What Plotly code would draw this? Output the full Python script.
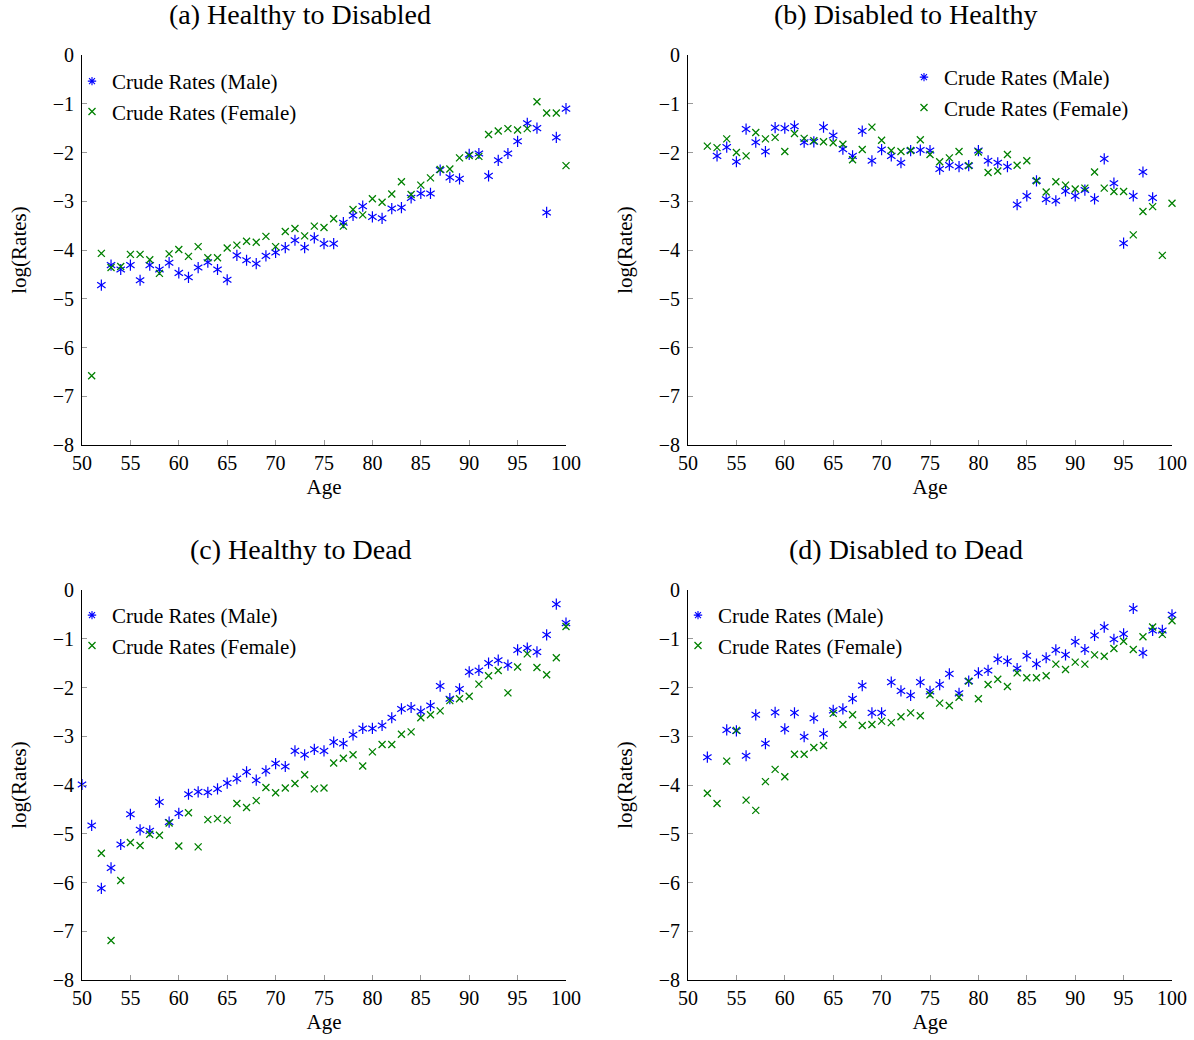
import plotly.graph_objects as go

# ---------------- data ----------------
# (a) Healthy to Disabled
a_male_age = list(range(52, 101))
a_male = [-4.72, -4.31, -4.40, -4.31, -4.62, -4.31, -4.40, -4.26, -4.47, -4.56,
          -4.36, -4.25, -4.40, -4.61, -4.11, -4.21, -4.28, -4.12, -4.05, -3.95,
          -3.80, -3.95, -3.75, -3.87, -3.87, -3.44, -3.29, -3.10, -3.32, -3.35,
          -3.15, -3.13, -2.93, -2.84, -2.84, -2.36, -2.51, -2.54, -2.04, -2.02,
          -2.48, -2.16, -2.02, -1.77, -1.40, -1.50, -3.23, -1.69, -1.10]
a_female_age = list(range(51, 101))
a_female = [-6.58, -4.07, -4.36, -4.34, -4.09, -4.09, -4.20, -4.48, -4.08, -3.99,
            -4.13, -3.93, -4.16, -4.16, -3.96, -3.90, -3.82, -3.84, -3.72, -3.93,
            -3.62, -3.56, -3.71, -3.51, -3.54, -3.36, -3.51, -3.17, -3.28, -2.95,
            -3.02, -2.85, -2.60, -2.86, -2.67, -2.52, -2.35, -2.34, -2.11, -2.06,
            -2.08, -1.63, -1.56, -1.51, -1.54, -1.51, -0.96, -1.19, -1.19, -2.27]

# (b) Disabled to Healthy
b_male_age = list(range(53, 99))
b_male = [-2.07, -1.89, -2.19, -1.52, -1.79, -1.98, -1.49, -1.50, -1.46, -1.79,
          -1.78, -1.48, -1.65, -1.93, -2.07, -1.56, -2.17, -1.94, -2.07, -2.21,
          -1.96, -1.95, -1.96, -2.34, -2.26, -2.29, -2.27, -1.96, -2.17, -2.21,
          -2.29, -3.07, -2.89, -2.58, -2.96, -2.99, -2.79, -2.89, -2.77, -2.95,
          -2.13, -2.63, -3.86, -2.89, -2.40, -2.93]
b_female_age = list(range(52, 101))
b_female = [-1.87, -1.90, -1.72, -2.00, -2.07, -1.59, -1.72, -1.69, -1.98, -1.61,
            -1.71, -1.76, -1.78, -1.80, -1.83, -2.15, -1.94, -1.48, -1.75, -1.96,
            -1.98, -1.96, -1.74, -2.04, -2.19, -2.11, -1.98, -2.27, -1.99, -2.41,
            -2.38, -2.04, -2.26, -2.17, -2.58, -2.81, -2.60, -2.67, -2.75, -2.73,
            -2.40, -2.73, -2.80, -2.80, -3.69, -3.21, -3.11, -4.11, -3.04]

# (c) Healthy to Dead
c_male_age = list(range(50, 101))
c_male = [-3.99, -4.83, -6.12, -5.70, -5.22, -4.60, -4.92, -4.94, -4.35, -4.76,
          -4.58, -4.19, -4.14, -4.15, -4.08, -3.96, -3.87, -3.73, -3.90, -3.71,
          -3.56, -3.62, -3.30, -3.38, -3.27, -3.30, -3.12, -3.15, -2.97, -2.84,
          -2.84, -2.78, -2.62, -2.44, -2.41, -2.49, -2.37, -1.97, -2.23, -2.03,
          -1.68, -1.65, -1.50, -1.44, -1.54, -1.23, -1.19, -1.27, -0.92, -0.29,
          -0.68]
c_female_age = list(range(52, 101))
c_female = [-5.40, -7.19, -5.96, -5.18, -5.24, -5.01, -5.03, -4.78, -5.25, -4.57,
            -5.27, -4.71, -4.69, -4.72, -4.38, -4.46, -4.32, -4.05, -4.16, -4.06,
            -3.97, -3.79, -4.08, -4.06, -3.55, -3.45, -3.38, -3.61, -3.32, -3.17,
            -3.17, -2.96, -2.91, -2.62, -2.56, -2.48, -2.27, -2.23, -2.18, -1.93,
            -1.76, -1.65, -2.11, -1.58, -1.31, -1.59, -1.74, -1.39, -0.75]

# (d) Disabled to Dead
d_male_age = [52] + list(range(54, 101))
d_male = [-3.43, -2.87, -2.89, -3.40, -2.56, -3.15, -2.51, -2.85, -2.52, -3.01,
          -2.63, -2.95, -2.47, -2.44, -2.23, -1.96, -2.52, -2.52, -1.89, -2.07,
          -2.16, -1.89, -2.08, -1.94, -1.72, -2.12, -1.87, -1.70, -1.65, -1.42,
          -1.46, -1.61, -1.35, -1.52, -1.39, -1.23, -1.33, -1.06, -1.22, -0.93,
          -0.76, -1.01, -0.90, -0.38, -1.29, -0.83, -0.83, -0.51]
d_female_age = list(range(52, 101))
d_female = [-4.17, -4.38, -3.51, -2.88, -4.31, -4.52, -3.93, -3.68, -3.83, -3.37,
            -3.37, -3.23, -3.19, -2.53, -2.76, -2.56, -2.78, -2.76, -2.69, -2.72,
            -2.60, -2.52, -2.58, -2.15, -2.32, -2.37, -2.20, -1.87, -2.23, -1.94,
            -1.83, -1.98, -1.70, -1.80, -1.80, -1.76, -1.52, -1.63, -1.48, -1.52,
            -1.33, -1.36, -1.20, -1.05, -1.22, -0.96, -0.76, -0.91, -0.63]

titles = ["(a) Healthy to Disabled", "(b) Disabled to Healthy",
          "(c) Healthy to Dead", "(d) Disabled to Dead"]
male_label = "Crude Rates (Male)"
female_label = "Crude Rates (Female)"
x_ticks = [50, 55, 60, 65, 70, 75, 80, 85, 90, 95, 100]
y_ticks = [0, -1, -2, -3, -4, -5, -6, -7, -8]

panels = [
    (a_male_age, a_male, a_female_age, a_female),
    (b_male_age, b_male, b_female_age, b_female),
    (c_male_age, c_male, c_female_age, c_female),
    (d_male_age, d_male, d_female_age, d_female),
]

# ---------------- layout geometry (pixels) ----------------
W, H = 1194, 1040
FONT = "Liberation Serif, Times New Roman, DejaVu Serif, serif"
BLUE = "#0000ff"
GREEN = "#008000"

plot_boxes = [  # left, right, top, bottom in pixels
    (82, 566, 55, 445),
    (688, 1172, 55, 445),
    (82, 566, 590, 980),
    (688, 1172, 590, 980),
]
title_pos = [(300, 15), (906, 15), (301, 549), (906, 549)]
legend_pos = [(72, 61), (904, 57), (72, 595), (678, 595)]

fig = go.Figure()

for i, (mx, my, fx, fy) in enumerate(panels):
    n = "" if i == 0 else str(i + 1)
    xa, ya = "x" + n, "y" + n
    leg = "legend" + n
    # male asterisk = two overlaid Y markers (six arms)
    for sym in ("y-up-open", "y-down-open"):
        fig.add_trace(go.Scatter(
            x=mx, y=my, mode="markers", xaxis=xa, yaxis=ya,
            marker=dict(symbol=sym, size=7, color=BLUE,
                        line=dict(width=1.2, color=BLUE)),
            showlegend=False, cliponaxis=False, hoverinfo="x+y"))
    # legend entry for the male series
    fig.add_trace(go.Scatter(
        x=[None], y=[None], mode="markers", xaxis=xa, yaxis=ya,
        name=male_label, legend=leg,
        marker=dict(symbol="asterisk-open", size=7, color=BLUE,
                    line=dict(width=1.1, color=BLUE))))
    fig.add_trace(go.Scatter(
        x=fx, y=fy, mode="markers", xaxis=xa, yaxis=ya,
        name=female_label, legend=leg, cliponaxis=False,
        marker=dict(symbol="x-thin-open", size=7, color=GREEN,
                    line=dict(width=1.3, color=GREEN))))

layout = dict(
    width=W, height=H,
    margin=dict(l=0, r=0, t=0, b=0, autoexpand=False),
    paper_bgcolor="white", plot_bgcolor="white",
    font=dict(family=FONT, size=20, color="#000000"),
    annotations=[],
)

for i in range(4):
    n = "" if i == 0 else str(i + 1)
    l, r, t, b = plot_boxes[i]
    axis_common = dict(
        showgrid=False, zeroline=False, showline=True, automargin=False,
        linecolor="#000000", linewidth=1.1, mirror=False,
        ticks="inside", ticklen=5, tickcolor="#999999", tickwidth=1,
        tickfont=dict(family=FONT, size=20, color="#000000"),
    )
    layout["xaxis" + n] = dict(
        domain=[l / W, r / W], range=[50, 100], anchor="y" + n,
        tickvals=x_ticks,
        title=dict(text="Age", font=dict(family=FONT, size=21), standoff=6),
        **axis_common)
    layout["yaxis" + n] = dict(
        domain=[1 - b / H, 1 - t / H], range=[-8, 0], anchor="x" + n,
        tickvals=y_ticks, ticklabelstandoff=3,
        title=dict(text="log(Rates)", font=dict(family=FONT, size=21), standoff=20),
        **axis_common)
    tx, ty = title_pos[i]
    layout["annotations"].append(dict(
        text=titles[i], xref="paper", yref="paper",
        x=tx / W, y=1 - ty / H, xanchor="center", yanchor="middle",
        showarrow=False, font=dict(family=FONT, size=28)))
    lx, ly = legend_pos[i]
    layout["legend" + n] = dict(
        x=lx / W, y=1 - ly / H, xanchor="left", yanchor="top",
        bgcolor="rgba(0,0,0,0)", borderwidth=0,
        font=dict(family=FONT, size=21), itemwidth=30,
        tracegroupgap=0)

fig.update_layout(**layout)
fig.write_html("out.html")
